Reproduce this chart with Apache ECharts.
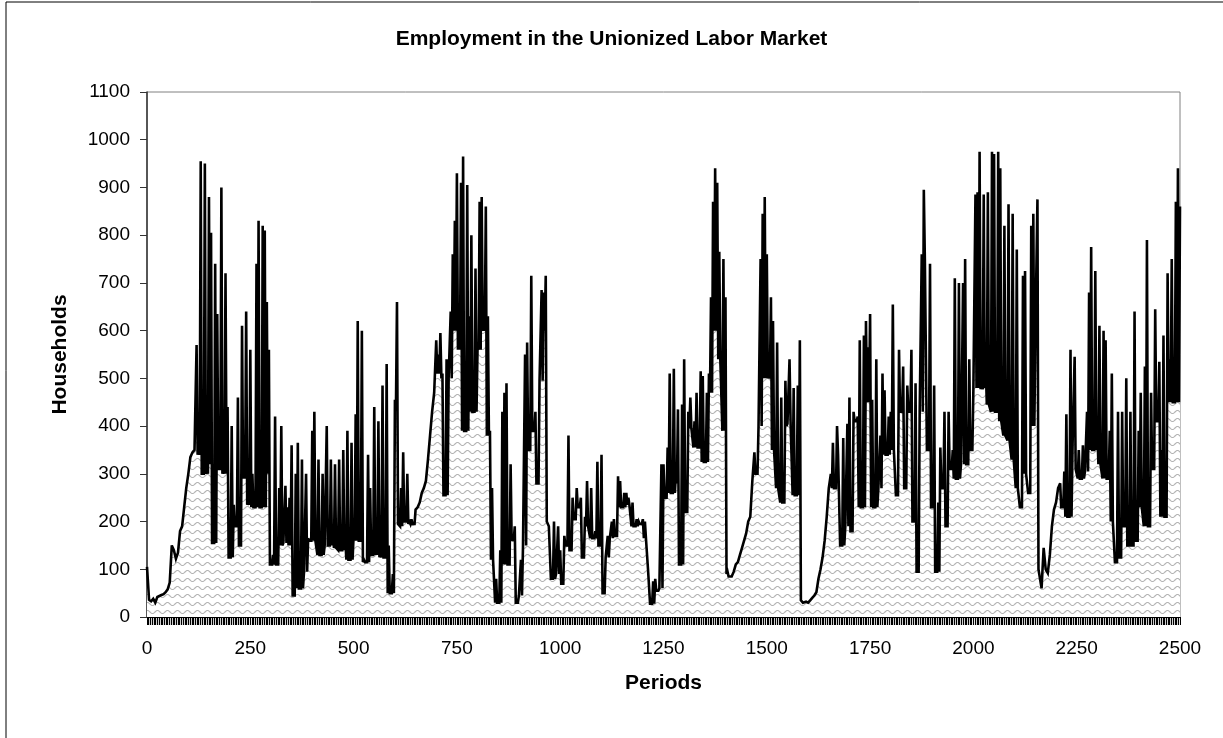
<!DOCTYPE html>
<html>
<head>
<meta charset="utf-8">
<title>Employment in the Unionized Labor Market</title>
<script src="https://cdn.jsdelivr.net/npm/echarts@6/dist/echarts.min.js"></script>
<style>
  html, body { margin: 0; padding: 0; background: #fff; }
  #chart { width: 1223px; height: 738px; }
</style>
</head>
<body>
<div id="chart"></div>
<script>
  // households employed, one value every STEP periods
  var STEP = 5
  var households0 = [105,36,33,38,30,42,44,46,48,52, 58,72,150,140,122,135,180,190,230,270,
    300,335,345,350,570,350,955,300,950,320, 880,805,155,740,635,310,900,320,720,440,
    125,400,235,190,460,150,610,300,640,240]
  var households250 = [560,300,230,740,830,230,820,810,660,560, 110,130,420,110,270,400,155,275,230,250,
    360,45,300,365,60,330,95,300,165,160, 390,430,160,330,130,300,150,400,150,330,
    170,320,145,330,140,350,160,390,120,365]
  var households500 = [170,425,620,160,600,120,115,340,270,130, 440,150,410,130,485,125,530,150,50,90,
    455,660,195,270,345,200,300,200,205,195, 225,230,240,260,270,285,330,380,430,470,
    580,550,595,510,255,540,500,640,760,830]
  var households750 = [930,620,910,965,390,905,630,800,430,730, 565,870,880,610,860,630,390,270,120,80,
    30,140,430,470,490,110,320,165,190,30, 45,120,150,550,575,350,715,390,430,280,
    495,685,680,715,200,190,80,200,90,190]
  var households1000 = [140,70,170,150,380,140,250,205,270,230, 250,125,210,285,190,270,165,180,325,150,
    340,50,125,170,165,200,205,170,295,285, 230,260,260,250,235,240,190,205,200,195,
    205,200,165,100,28,75,80,55,60,320]
  var households1250 = [320,250,355,510,260,520,300,435,110,445, 540,220,430,460,395,410,470,355,515,505,
    325,470,510,670,870,940,910,765,540,750, 670,95,85,85,95,110,115,130,145,160,
    175,200,210,285,345,300,400,750,845,880]
  var households1500 = [760,510,670,620,350,575,270,460,240,495, 405,540,410,480,255,485,580,35,30,32,
    30,35,40,45,52,80,100,125,160,210, 270,300,365,270,400,340,150,375,190,405,
    460,180,430,410,420,580,230,590,620,565]
  var households1750 = [635,455,230,540,270,380,510,475,340,420, 430,655,350,255,560,430,525,270,485,430,
    560,200,490,95,430,760,895,750,350,740, 230,485,95,240,355,270,430,190,430,310,
    350,710,290,700,320,700,750,320,540,350]
  var households2000 = [480,885,890,975,480,885,520,890,445,975, 970,430,975,940,410,820,380,865,370,845,
    330,770,270,230,715,725,300,260,820,845, 590,875,100,60,145,100,92,130,190,225,
    240,270,280,230,305,425,210,560,360,545]
  var households2250 = [310,350,290,360,305,430,680,775,350,725, 390,610,320,600,580,290,390,510,200,115,
    430,125,430,190,500,150,430,150,640,160, 390,470,230,525,790,190,470,310,645,410,
    535,350,590,210,720,540,750,450,870,940, 860]

  // bottom of the dense black band (the fast troughs) for each 10-period bin, null where the line is smooth
  var lows0 = [null,null,null,null,null,null,null,null,null,null,null,null,
    340,300,300,320,155,310,300,300,125,190,150,290,235]
  var lows250 = [230,230,230,230,300,110,110,150,155,150,45,60,60,95,160,160,130,130,150,150,
    145,140,140,120,120]
  var lows500 = [160,160,115,115,130,130,125,125,50,50,440,190,200,195,195,null,null,null,null,null,
    510,500,255,500,600]
  var lows750 = [560,390,390,430,430,560,600,380,120,30,30,110,110,160,30,45,150,350,390,280,
    495,600,190,80,90]
  var lows1000 = [70,150,140,205,230,125,190,165,165,150,50,125,165,170,230,230,235,190,190,195,
    165,100,28,55,60]
  var lows1250 = [250,260,260,280,110,220,395,355,355,325,325,470,600,540,390,90,null,null,null,null,
    null,null,300,400,500]
  var lows1500 = [500,350,270,240,400,410,255,255,35,null,null,null,null,null,null,270,270,340,150,190,
    180,410,230,230,450]
  var lows1750 = [230,230,270,340,340,350,255,430,270,430,200,95,430,750,350,230,95,270,190,310,
    290,290,320,320,350]
  var lows2000 = [480,480,480,445,430,430,410,380,370,330,270,230,300,260,400,590,null,null,null,null,
    null,230,210,210,360]
  var lows2250 = [290,290,305,350,350,320,290,290,200,115,125,190,150,150,160,230,190,190,310,410,
    210,210,450,450,450]

  var households = [].concat(households0, households250, households500, households750, households1000,
    households1250, households1500, households1750, households2000, households2250)
  var lows = [].concat(lows0, lows250, lows500, lows750, lows1000,
    lows1250, lows1500, lows1750, lows2000, lows2250)

  // zig-zag between the readings and the troughs, like the period-by-period series does
  var seriesData = []
  for (var i = 0; i < households.length; i++) {
    var t = i * STEP
    seriesData.push([t, households[i]])
    var low = lows[Math.floor(t / 10)]
    if (low != null && i + 1 < households.length) {
      seriesData.push([t + STEP / 2, Math.min(low, households[i], households[i + 1])])
    }
  }

  var font = 'Arial, "Liberation Sans", sans-serif'

  // grey wavy hatching used by the area fill
  function wavePattern() {
    var c = document.createElement('canvas')
    c.width = 10
    c.height = 8
    var ctx = c.getContext('2d')
    ctx.fillStyle = '#fff'
    ctx.fillRect(0, 0, 10, 8)
    ctx.strokeStyle = '#b4b4b4'
    ctx.lineWidth = 1.1
    ctx.beginPath()
    for (var x = -1; x <= 11; x += 0.5) {
      var y = 4 + 1.5 * Math.sin(x / 10 * Math.PI * 2)
      if (x === -1) ctx.moveTo(x, y)
      else ctx.lineTo(x, y)
    }
    ctx.stroke()
    return c
  }

  var chart = echarts.init(document.getElementById('chart'))
  chart.setOption({
    animation: false,
    backgroundColor: '#fff',
    title: {
      text: 'Employment in the Unionized Labor Market',
      left: 'center',
      top: 24,
      textStyle: { fontFamily: font, fontSize: 21, fontWeight: 'bold', color: '#000' }
    },
    graphic: [{
      type: 'rect',
      shape: { x: 6, y: 2, width: 1400, height: 900 },
      style: { fill: null, stroke: '#000', lineWidth: 1 },
      silent: true
    }],
    grid: {
      left: 147,
      right: 43,
      top: 92,
      bottom: 121,
      show: true,
      borderColor: '#808080',
      borderWidth: 1
    },
    xAxis: {
      type: 'value',
      min: 0,
      max: 2500,
      interval: 250,
      name: 'Periods',
      nameLocation: 'middle',
      nameGap: 56,
      nameTextStyle: { fontFamily: font, fontSize: 21, fontWeight: 'bold', color: '#000' },
      axisLine: { show: true, lineStyle: { color: '#000', width: 1 } },
      axisTick: { show: true, length: 8, lineStyle: { color: '#000', width: 1 } },
      minorTick: { show: true, splitNumber: 60, length: 8, lineStyle: { color: '#000', width: 1.2 } },
      axisLabel: {
        margin: 22, fontFamily: font, fontSize: 19, color: '#000',
        formatter: function (v) { return String(v) }
      },
      splitLine: { show: false }
    },
    yAxis: {
      type: 'value',
      min: 0,
      max: 1100,
      interval: 100,
      name: 'Households',
      nameLocation: 'middle',
      nameGap: 76,
      nameTextStyle: { fontFamily: font, fontSize: 21, fontWeight: 'bold', color: '#000' },
      axisLine: { show: true, lineStyle: { color: '#333', width: 1.5 } },
      axisTick: { show: true, length: 7, lineStyle: { color: '#333', width: 1 } },
      axisLabel: {
        margin: 17, fontFamily: font, fontSize: 19, color: '#000',
        formatter: function (v) { return String(v) }
      },
      splitLine: { show: false }
    },
    series: [{
      name: 'Households',
      type: 'line',
      data: seriesData,
      symbol: 'none',
      lineStyle: { color: '#000', width: 2.6, join: 'miter', miterLimit: 4 },
      areaStyle: { color: { image: wavePattern(), repeat: 'repeat' }, opacity: 1 },
      z: 2
    }]
  })
</script>
</body>
</html>
